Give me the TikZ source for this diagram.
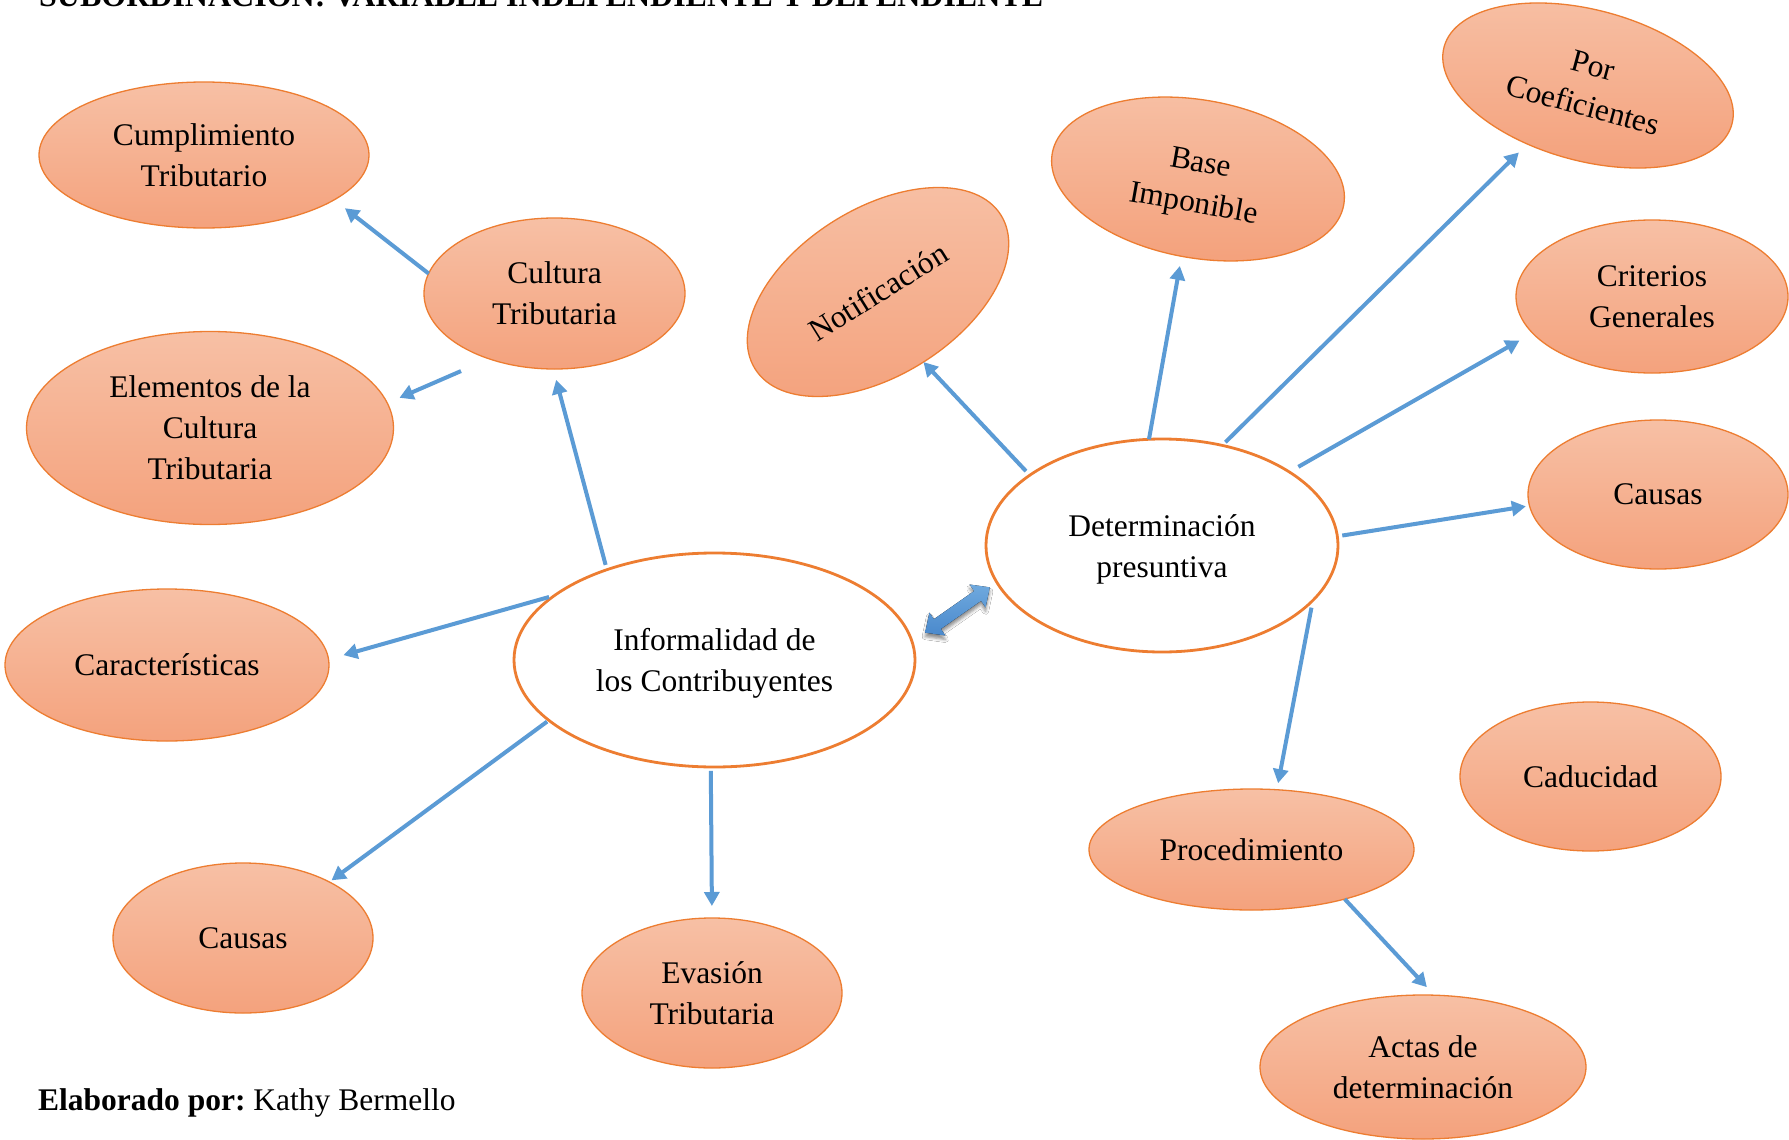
\documentclass[tikz,border=0pt]{standalone}
\usepackage{fontspec}
\setmainfont{Liberation Serif}
\usetikzlibrary{arrows.meta,shapes.geometric,shadows.blur}
\frenchspacing

\definecolor{peachtop}{HTML}{F7C0A5}
\definecolor{peachbot}{HTML}{F4A27D}
\definecolor{rim}{HTML}{ED7D31}
\definecolor{arrowblue}{HTML}{5B9BD5}
\definecolor{blocklight}{HTML}{6FA9DE}
\definecolor{blockdark}{HTML}{4A89CC}

\tikzset{
  txt/.style={font=\fontsize{31.5}{41}\selectfont, align=center},
  bubble/.style={ellipse, txt, draw=rim, line width=1.3pt,
    top color=peachtop, bottom color=peachbot, inner sep=0pt, outer sep=0pt},
  hub/.style={ellipse, txt, draw=rim, line width=2.8pt, fill=white,
    inner sep=0pt, outer sep=0pt},
  conn/.style={draw=arrowblue, line width=4pt,
    -{Triangle[length=14pt,width=15pt]}},
}

\begin{document}
\begin{tikzpicture}[x=1pt,y=1pt]
\fill[white] (0,-1140) rectangle (1789,0);
\useasboundingbox (0,-1140) rectangle (1789,0);

% heading and credit line
\node[anchor=base west, inner sep=0pt, font=\fontsize{32}{38}\selectfont\bfseries] (title) at (39,-7)
  {SUBORDINACIÓN: VARIABLE INDEPENDIENTE Y DEPENDIENTE};
\node[anchor=base west, inner sep=0pt, font=\fontsize{31.5}{38}\selectfont] (credit) at (38,-1110)
  {\textbf{Elaborado por:} Kathy Bermello};

% independent variable side
\node[hub, text height=69pt, minimum width=401pt, minimum height=214pt] (inf) at (714.5,-660) {Informalidad de\\los Contribuyentes};
\node[bubble, minimum width=330pt, minimum height=146pt] (cump) at (204,-155) {Cumplimiento\\Tributario};
\node[bubble, minimum width=261pt, minimum height=151pt] (cult) at (554.5,-293.5) {Cultura\\Tributaria};
\node[bubble, minimum width=367pt, minimum height=193pt] (elem) at (210,-428) {Elementos de la\\Cultura\\Tributaria};
\node[bubble, minimum width=324pt, minimum height=152pt] (carac) at (167,-665) {Características};
\node[bubble, minimum width=260pt, minimum height=150pt] (causL) at (243,-938) {Causas};
\node[bubble, minimum width=260pt, minimum height=150pt] (evas) at (712,-993) {Evasión\\Tributaria};

% dependent variable side
\node[hub, text height=70.5pt, minimum width=352pt, minimum height=213pt] (det) at (1162,-545.5) {Determinación\\presuntiva};
\node[bubble, rotate=32, minimum width=290pt, minimum height=167pt] (notif) at (878,-292) {Notificación};
\node[bubble, rotate=-10, text height=74.5pt, minimum width=296pt, minimum height=158pt] (base) at (1198,-179) {Base\\Imponible};
\node[bubble, rotate=-15, minimum width=298pt, minimum height=151pt] (coef) at (1588,-85.5) {Por\\Coeficientes};
\node[bubble, minimum width=272pt, minimum height=153pt] (crit) at (1652,-296.5) {Criterios\\Generales};
\node[bubble, minimum width=260pt, minimum height=149pt] (causR) at (1658,-494.5) {Causas};
\node[bubble, minimum width=261pt, minimum height=149pt] (cad) at (1590.5,-776.5) {Caducidad};
\node[bubble, minimum width=325pt, minimum height=121pt] (proc) at (1251.5,-849.5) {Procedimiento};
\node[bubble, minimum width=326pt, minimum height=144pt] (actas) at (1423,-1067) {Actas de\\determinación};

% connectors, left cluster
\draw[conn, shorten >=13.6pt] (cult.171.5) -- (cump.341);
\draw[conn, shorten <=30.7pt, shorten >=13.3pt] (cult.225.8) -- (elem.8.7);
\draw[conn, shorten <=5pt, shorten >=11.3pt] (inf.140.2) -- (cult.269.4);
\draw[conn, shorten <=5.8pt, shorten >=15.5pt] (inf.158) -- (carac.2.8);
\draw[conn, shorten <=2.2pt, shorten >=2.7pt] (inf.200.6) -- (causL.33.3);
\draw[conn, shorten <=4pt, shorten >=12pt] (inf.268.1) -- (evas.90.8);

% connectors, right cluster
\draw[conn, shorten <=5.6pt] (det.152.1) -- (notif.271.3);
\draw[conn, shorten >=9.8pt] (det.97.5) -- (base.268.2);
\draw[conn, shorten <=4.6pt, shorten >=12pt] (det.59.7) -- (coef.239.9);
\draw[conn, shorten <=10.4pt, shorten >=15pt] (det.30.6) -- (crit.197.4);
\draw[conn, shorten <=5pt, shorten >=3.7pt] (det.3.9) -- (causR.185.3);
\draw[conn, shorten <=7.4pt, shorten >=6.7pt] (det.340.3) -- (proc.67.2);
\draw[conn, shorten >=11pt] (proc.332.6) -- (actas.81);

% two-headed block arrow linking both variables
\begin{scope}[shift={(957.5,-610)}, rotate=35]
  \fill[blur shadow={shadow xshift=0pt, shadow yshift=-4pt, shadow blur radius=3pt, shadow opacity=45},
        top color=blocklight, bottom color=blockdark]
    (-39.5,0) -- (-24.5,14) -- (-24.5,6) -- (24.5,6) -- (24.5,14) -- (39.5,0)
    -- (24.5,-14) -- (24.5,-6) -- (-24.5,-6) -- (-24.5,-14) -- cycle;
\end{scope}
\end{tikzpicture}
\end{document}
